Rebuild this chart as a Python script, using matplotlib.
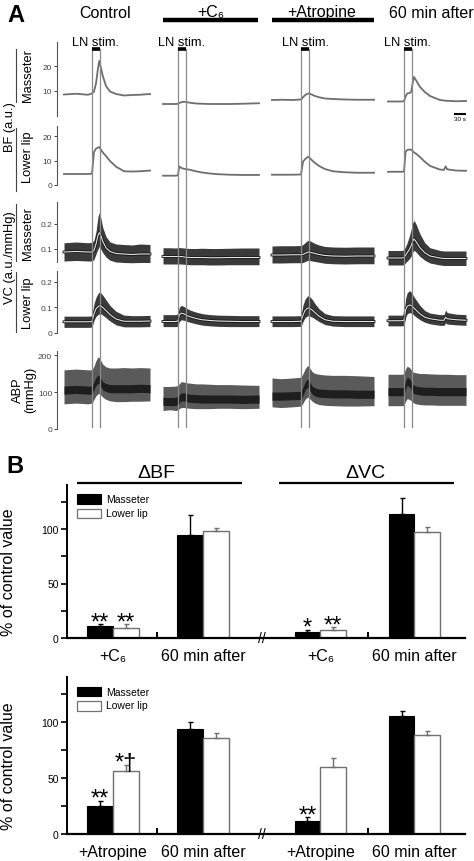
import matplotlib
matplotlib.use('Agg')
import matplotlib.pyplot as plt
from matplotlib.lines import Line2D
from matplotlib.patches import Rectangle

plt.rcParams['font.family'] = ['Liberation Sans', 'DejaVu Sans']
plt.rcParams['mathtext.default'] = 'regular'

# ---------------- panel A: traces (time in s relative to LN stim onset) ----------------
conditions = ['Control', '+C\u2086', '+Atropine', '60 min after']
stim_len = 20

t_ctrl = [-70, -40, -10, 0, 5, 10, 15, 18, 22, 27, 35, 45, 60, 80, 100, 120, 145]
bfm_ctrl = [8.6, 8.9, 8.5, 9.0, 9.8, 13.0, 19.0, 22.0, 19.5, 16.0, 12.0, 9.8, 8.8, 8.2, 8.4, 8.5, 8.8]
bfl_ctrl = [4.5, 4.5, 4.5, 4.6, 13.5, 14.8, 15.3, 15.5, 14.5, 13.3, 11.8, 9.8, 7.5, 5.6, 5.5, 5.6, 5.9]
vcm_ctrl = [0.088, 0.09, 0.088, 0.088, 0.095, 0.12, 0.155, 0.165, 0.155, 0.13, 0.105, 0.09, 0.082, 0.08, 0.078, 0.08, 0.08]
vcm_ctrl_hi = [0.125, 0.128, 0.125, 0.126, 0.135, 0.17, 0.23, 0.245, 0.225, 0.185, 0.15, 0.128, 0.12, 0.118, 0.116, 0.12, 0.118]
vcm_ctrl_lo = [0.052, 0.054, 0.052, 0.052, 0.058, 0.08, 0.1, 0.11, 0.1, 0.085, 0.068, 0.055, 0.048, 0.046, 0.045, 0.046, 0.046]
vcl_ctrl = [0.044, 0.044, 0.044, 0.045, 0.075, 0.095, 0.103, 0.107, 0.106, 0.1, 0.088, 0.072, 0.055, 0.046, 0.046, 0.046, 0.047]
vcl_ctrl_hi = [0.066, 0.066, 0.066, 0.067, 0.115, 0.14, 0.155, 0.16, 0.158, 0.148, 0.13, 0.108, 0.085, 0.07, 0.068, 0.068, 0.069]
vcl_ctrl_lo = [0.022, 0.022, 0.022, 0.023, 0.05, 0.065, 0.072, 0.075, 0.075, 0.07, 0.06, 0.047, 0.032, 0.024, 0.024, 0.024, 0.025]
abp_ctrl_lo = [68, 70, 68, 70, 80, 90, 95, 96, 92, 86, 80, 76, 74, 74, 75, 75, 76]
abp_ctrl_hi = [160, 162, 160, 160, 170, 185, 195, 193, 185, 175, 168, 165, 165, 166, 165, 166, 165]
abp_ctrl_mid = [108, 110, 108, 108, 120, 132, 138, 136, 128, 120, 115, 112, 112, 112, 112, 113, 112]

t_c6 = [-37.5, -20, -5, 0, 3, 8, 15, 20, 30, 45, 60, 80, 100, 130, 160, 202.5]
bfm_c6 = [4.8, 4.8, 4.8, 4.9, 5.2, 5.5, 5.7, 5.6, 5.3, 5.0, 4.9, 4.8, 4.8, 4.8, 4.9, 5.1]
bfl_c6 = [3.8, 3.8, 3.8, 4.0, 7.6, 7.0, 6.6, 6.5, 6.2, 5.6, 5.1, 4.7, 4.4, 4.2, 4.1, 4.1]
vcm_c6 = [0.07, 0.07, 0.07, 0.07, 0.07, 0.07, 0.068, 0.067, 0.066, 0.066, 0.066, 0.065, 0.065, 0.066, 0.066, 0.066]
vcm_c6_hi = [0.105, 0.105, 0.104, 0.105, 0.106, 0.105, 0.104, 0.103, 0.102, 0.102, 0.103, 0.102, 0.102, 0.103, 0.104, 0.104]
vcm_c6_lo = [0.04, 0.04, 0.04, 0.04, 0.04, 0.04, 0.039, 0.038, 0.037, 0.037, 0.037, 0.036, 0.036, 0.037, 0.037, 0.037]
vcl_c6 = [0.045, 0.045, 0.045, 0.048, 0.07, 0.078, 0.075, 0.07, 0.064, 0.057, 0.052, 0.049, 0.047, 0.046, 0.045, 0.045]
vcl_c6_hi = [0.072, 0.072, 0.072, 0.075, 0.1, 0.108, 0.104, 0.098, 0.09, 0.082, 0.076, 0.072, 0.07, 0.069, 0.068, 0.068]
vcl_c6_lo = [0.025, 0.025, 0.025, 0.027, 0.045, 0.052, 0.05, 0.047, 0.042, 0.036, 0.031, 0.028, 0.026, 0.025, 0.025, 0.025]
abp_c6_lo = [50, 52, 50, 52, 55, 58, 58, 57, 56, 55, 55, 55, 56, 56, 55, 56]
abp_c6_hi = [115, 115, 116, 118, 122, 128, 127, 125, 124, 122, 122, 121, 120, 120, 119, 118]
abp_c6_mid = [78, 77, 78, 80, 84, 90, 90, 88, 86, 85, 84, 84, 84, 84, 83, 84]

t_atr = [-72.5, -50, -20, 0, 5, 10, 15, 18, 22, 28, 35, 45, 60, 80, 110, 140, 182.5]
bfm_atr = [6.4, 6.5, 6.4, 6.6, 7.5, 8.3, 8.8, 9.0, 8.9, 8.5, 8.0, 7.5, 7.0, 6.8, 6.6, 6.5, 6.5]
bfl_atr = [4.2, 4.2, 4.2, 4.3, 9.5, 10.5, 11.2, 11.5, 11.0, 10.0, 9.0, 7.8, 6.5, 5.6, 5.2, 5.0, 5.0]
vcm_atr = [0.076, 0.076, 0.077, 0.077, 0.078, 0.082, 0.086, 0.088, 0.087, 0.085, 0.082, 0.078, 0.074, 0.072, 0.071, 0.072, 0.072]
vcm_atr_hi = [0.112, 0.113, 0.113, 0.114, 0.118, 0.125, 0.132, 0.135, 0.133, 0.128, 0.122, 0.116, 0.11, 0.108, 0.107, 0.108, 0.108]
vcm_atr_lo = [0.044, 0.044, 0.045, 0.045, 0.046, 0.05, 0.053, 0.055, 0.054, 0.052, 0.05, 0.047, 0.043, 0.041, 0.04, 0.041, 0.041]
vcl_atr = [0.045, 0.045, 0.045, 0.046, 0.07, 0.088, 0.096, 0.098, 0.096, 0.09, 0.08, 0.066, 0.052, 0.046, 0.045, 0.045, 0.045]
vcl_atr_hi = [0.067, 0.067, 0.067, 0.068, 0.11, 0.132, 0.143, 0.146, 0.142, 0.132, 0.115, 0.095, 0.076, 0.068, 0.067, 0.067, 0.067]
vcl_atr_lo = [0.025, 0.025, 0.025, 0.026, 0.045, 0.06, 0.066, 0.068, 0.066, 0.062, 0.055, 0.045, 0.033, 0.027, 0.025, 0.025, 0.025]
abp_atr_lo = [60, 58, 60, 62, 70, 80, 85, 86, 82, 75, 70, 66, 64, 63, 62, 62, 63]
abp_atr_hi = [138, 136, 138, 140, 150, 162, 170, 171, 165, 155, 150, 148, 146, 145, 145, 144, 142]
abp_atr_mid = [92, 92, 93, 94, 105, 118, 126, 126, 118, 108, 103, 100, 99, 98, 98, 97, 97]

t_60 = [-40, -20, -5, 0, 4, 8, 14, 18, 22, 25, 30, 40, 52, 65, 90, 100, 104, 108, 130, 155]
bfm_60 = [5.8, 5.8, 5.8, 6.0, 7.8, 9.0, 9.2, 9.6, 13.5, 15.6, 14.3, 11.6, 9.6, 8.0, 6.4, 6.2, 6.1, 6.1, 5.9, 6.0]
bfl_60 = [5.4, 5.4, 5.4, 5.5, 13.6, 14.3, 14.5, 14.4, 13.8, 13.3, 12.8, 11.4, 9.5, 7.8, 6.3, 6.2, 7.6, 6.4, 5.9, 5.8]
vcm_60 = [0.064, 0.064, 0.064, 0.066, 0.075, 0.085, 0.1, 0.115, 0.132, 0.14, 0.13, 0.105, 0.085, 0.072, 0.064, 0.062, 0.062, 0.062, 0.062, 0.062]
vcm_60_hi = [0.094, 0.094, 0.094, 0.097, 0.11, 0.125, 0.155, 0.18, 0.205, 0.215, 0.2, 0.16, 0.125, 0.105, 0.094, 0.092, 0.092, 0.092, 0.092, 0.092]
vcm_60_lo = [0.036, 0.036, 0.036, 0.038, 0.045, 0.052, 0.062, 0.072, 0.088, 0.095, 0.088, 0.07, 0.055, 0.044, 0.036, 0.034, 0.034, 0.034, 0.034, 0.034]
vcl_60 = [0.048, 0.048, 0.048, 0.05, 0.09, 0.105, 0.11, 0.108, 0.103, 0.098, 0.09, 0.075, 0.062, 0.056, 0.05, 0.05, 0.062, 0.056, 0.052, 0.05]
vcl_60_hi = [0.07, 0.07, 0.07, 0.072, 0.135, 0.158, 0.166, 0.16, 0.15, 0.142, 0.13, 0.108, 0.088, 0.078, 0.072, 0.072, 0.09, 0.08, 0.074, 0.072]
vcl_60_lo = [0.028, 0.028, 0.028, 0.03, 0.062, 0.075, 0.08, 0.078, 0.074, 0.07, 0.063, 0.052, 0.042, 0.036, 0.03, 0.03, 0.04, 0.035, 0.032, 0.03]
abp_60_lo = [63, 63, 63, 64, 75, 82, 80, 76, 72, 70, 68, 66, 65, 65, 64, 64, 64, 64, 64, 64]
abp_60_hi = [148, 148, 148, 150, 163, 170, 166, 160, 155, 153, 152, 150, 150, 149, 148, 148, 148, 148, 147, 147]
abp_60_mid = [104, 104, 104, 106, 122, 132, 128, 120, 113, 110, 108, 106, 105, 105, 104, 104, 104, 104, 104, 104]

# ---------------- panel B: bars (% of control) ----------------
groups_top = ['+C\u2086', '60 min after', '+C\u2086', '60 min after']
groups_bot = ['+Atropine', '60 min after', '+Atropine', '60 min after']
top_mass = [10.7, 94.8, 5.8, 113.8]
top_mass_err = [2.1, 18.0, 1.8, 14.5]
top_lip = [9.5, 98.0, 7.6, 97.2]
top_lip_err = [3.0, 2.5, 2.2, 4.3]
top_mass_sig = ['**', '', '*', '']
top_lip_sig = ['**', '', '**', '']
bot_mass = [25.3, 93.8, 11.3, 105.0]
bot_mass_err = [4.5, 6.5, 3.6, 5.0]
bot_lip = [56.5, 85.7, 59.5, 88.4]
bot_lip_err = [5.5, 4.5, 8.0, 4.0]
bot_mass_sig = ['**', '', '**', '']
bot_lip_sig = ['*\u2020', '', '', '']

W, H = 474, 862
fig = plt.figure(figsize=(W / 100, H / 100), dpi=100)


def box(x0, y0, x1, y1):
    return [x0 / W, 1 - y1 / H, (x1 - x0) / W, (y1 - y0) / H]


def ftext(x, y, s, **kw):
    fig.text(x / W, 1 - y / H, s, **kw)


def fline(x0, y0, x1, y1, **kw):
    fig.add_artist(Line2D([x0 / W, x1 / W], [1 - y0 / H, 1 - y1 / H], **kw))


# global time axis for panel A
xlim_a = (0, 1032.5)
onsets = [87.5, 302.5, 610, 867.5]
segments = [
    (t_ctrl, bfm_ctrl, bfl_ctrl, vcm_ctrl, vcm_ctrl_lo, vcm_ctrl_hi, vcl_ctrl, vcl_ctrl_lo, vcl_ctrl_hi,
     abp_ctrl_lo, abp_ctrl_hi, abp_ctrl_mid),
    (t_c6, bfm_c6, bfl_c6, vcm_c6, vcm_c6_lo, vcm_c6_hi, vcl_c6, vcl_c6_lo, vcl_c6_hi,
     abp_c6_lo, abp_c6_hi, abp_c6_mid),
    (t_atr, bfm_atr, bfl_atr, vcm_atr, vcm_atr_lo, vcm_atr_hi, vcl_atr, vcl_atr_lo, vcl_atr_hi,
     abp_atr_lo, abp_atr_hi, abp_atr_mid),
    (t_60, bfm_60, bfl_60, vcm_60, vcm_60_lo, vcm_60_hi, vcl_60, vcl_60_lo, vcl_60_hi,
     abp_60_lo, abp_60_hi, abp_60_mid),
]

# rows: (top px, bottom px, ylim, spine bounds, ticks, ticklabels)
rows = [
    (42, 117, (0, 30), (0, 29.6), [10, 20], ['10', '20']),
    (126, 186, (0, 24.5), (0, 24), [0, 10, 20], ['0', '10', '20']),
    (202.5, 275, (0, 0.29), (0.048, 0.288), [0.1, 0.2], ['0.1', '0.2']),
    (271.5, 334, (0, 0.245), (0, 0.243), [0, 0.1, 0.2], ['0', '0.1', '0.2']),
    (351.6, 430, (0, 212), (0, 210), [0, 100, 200], ['0', '100', '200']),
]
axes_a = []
for top, bot, yl, bnd, tk, tkl in rows:
    ax = fig.add_axes(box(57, top, 470, bot))
    ax.set_xlim(xlim_a)
    ax.set_ylim(yl)
    ax.patch.set_visible(False)
    for s in ['top', 'right', 'bottom']:
        ax.spines[s].set_visible(False)
    ax.spines['left'].set_bounds(*bnd)
    ax.spines['left'].set_color('#555555')
    ax.spines['left'].set_linewidth(0.8)
    ax.set_xticks([])
    ax.set_yticks(tk)
    ax.set_yticklabels(tkl)
    ax.tick_params(axis='y', length=2.5, width=0.7, pad=1, labelsize=6, colors='#444444')
    axes_a.append(ax)

trace_col = '#6e6e6e'
for on, seg in zip(onsets, segments):
    t, bfm, bfl, vcm, vcm_lo, vcm_hi, vcl, vcl_lo, vcl_hi, ab_lo, ab_hi, ab_mid = seg
    x = [on + v for v in t]
    axes_a[0].plot(x, bfm, color=trace_col, lw=1.3)
    axes_a[1].plot(x, bfl, color=trace_col, lw=1.3)
    for ax, m, lo, hi in [(axes_a[2], vcm, vcm_lo, vcm_hi), (axes_a[3], vcl, vcl_lo, vcl_hi)]:
        ax.fill_between(x, lo, hi, color='#3a3a3a', lw=0)
        ax.plot(x, m, color='#111111', lw=2.0)
        ax.plot(x, m, color='#e8e8e8', lw=0.8)
    axes_a[4].fill_between(x, ab_lo, ab_hi, color='#5a5a5a', lw=0)
    axes_a[4].fill_between(x, [v - 14 for v in ab_mid], [v + 8 for v in ab_mid], color='#1e1e1e', lw=0)

# overlay for stimulus markers, scale bar
ov = fig.add_axes(box(57, 0, 470, H))
ov.set_xlim(xlim_a)
ov.set_ylim(H, 0)
ov.axis('off')
for on in onsets:
    for xs in (on, on + stim_len):
        ov.plot([xs, xs], [50, 428], color='#8a8a8a', lw=0.9)
    ov.plot([on, on + stim_len], [49.5, 49.5], color='black', lw=2.6, solid_capstyle='butt')
    ov.text(on + stim_len / 2, 43, 'LN stim.', ha='center', va='center', fontsize=9.3)
ov.plot([992.5, 1022.5], [114.5, 114.5], color='black', lw=1.5, solid_capstyle='butt')
ov.text(1007.5, 117, '30 s', ha='center', va='top', fontsize=4.5)

# column titles
for xc, name in zip([105, 211, 322, 431], conditions):
    ftext(xc, 13, name, ha='center', va='center', fontsize=11.5)
fline(163, 21, 258, 21, color='black', lw=3.2, solid_capstyle='butt')
fline(272, 21, 374, 21, color='black', lw=3.2, solid_capstyle='butt')

ftext(16, 16, 'A', ha='center', va='center', fontsize=17, fontweight='bold')

# row labels
ftext(28, 75, 'Masseter', ha='center', va='center', rotation=90, fontsize=9.3)
ftext(28, 157, 'Lower lip', ha='center', va='center', rotation=90, fontsize=9.3)
ftext(10, 127, 'BF (a.u.)', ha='center', va='center', rotation=90, fontsize=9.3)
ftext(28, 233, 'Masseter', ha='center', va='center', rotation=90, fontsize=9.3)
ftext(28, 303, 'Lower lip', ha='center', va='center', rotation=90, fontsize=9.3)
ftext(10, 258, 'VC (a.u./mmHg)', ha='center', va='center', rotation=90, fontsize=9.3)
ftext(24, 390, 'ABP\n(mmHg)', ha='center', va='center', rotation=90, fontsize=9.3, linespacing=1.0)
for y0, y1 in [(50, 103), (129, 192), (205, 262), (273, 333)]:
    fline(16, y0, 16, y1, color='#444444', lw=0.8)

# ---------------- panel B ----------------
ftext(15, 467, 'B', ha='center', va='center', fontsize=17, fontweight='bold')
ftext(156, 474, '\u0394BF', ha='center', va='center', fontsize=14)
ftext(365, 474, '\u0394VC', ha='center', va='center', fontsize=14)
fline(77, 484, 242, 484, color='black', lw=1.6, solid_capstyle='butt')
fline(279, 484, 454, 484, color='black', lw=1.6, solid_capstyle='butt')

centers = [1.79, 5.29, 9.86, 13.52]
bw = 1.0
lip_col = '#707070'


def bar_panel(rect, labels, mass, mass_err, lip, lip_err, mass_sig, lip_sig, leg_y):
    ax = fig.add_axes(rect)
    xm = [c - bw / 2 for c in centers]
    xl = [c + bw / 2 for c in centers]
    ax.bar(xm, mass, width=bw, color='black', edgecolor='black', lw=0.8, zorder=2)
    ax.bar(xl, lip, width=bw, color='white', edgecolor=lip_col, lw=1.0, zorder=2)
    ax.errorbar(xm, mass, yerr=[[0] * len(mass), mass_err], fmt='none', ecolor='black',
                elinewidth=1.0, capsize=1.8, capthick=1.0, zorder=3)
    ax.errorbar(xl, lip, yerr=[[0] * len(lip), lip_err], fmt='none', ecolor=lip_col,
                elinewidth=1.0, capsize=1.8, capthick=1.0, zorder=3)
    for xs, v, e, s in list(zip(xm, mass, mass_err, mass_sig)) + list(zip(xl, lip, lip_err, lip_sig)):
        if s:
            ax.annotate(s, (xs, v + e), xytext=(0, -3), textcoords='offset points',
                        ha='center', va='baseline', fontsize=17)
    ax.set_xlim(0, 15.49)
    ax.set_ylim(0, 140)
    for s in ['top', 'right']:
        ax.spines[s].set_visible(False)
    ax.spines['left'].set_linewidth(1.4)
    ax.spines['bottom'].set_linewidth(1.6)
    ax.set_yticks([0, 50, 100])
    ax.set_yticks([25, 75, 125], minor=True)
    ax.tick_params(axis='y', which='major', length=4, width=1.2, labelsize=7.5, pad=2)
    ax.tick_params(axis='y', which='minor', length=4, width=1.2)
    ax.set_xticks(centers)
    ax.set_xticklabels(labels)
    ax.set_xticks([3.5, 11.71], minor=True)
    ax.tick_params(axis='x', which='major', length=0, labelsize=11.5, pad=7)
    ax.tick_params(axis='x', which='minor', direction='in', length=4, width=1.4)
    ax.text(7.59, 0, '//', ha='center', va='center', fontsize=10, clip_on=False, zorder=4)
    ax.set_ylabel('% of control value', fontsize=11.5)
    ax.yaxis.set_label_coords(-0.128, 0.44)
    # legend
    fig.add_artist(Rectangle((77 / W, 1 - (leg_y + 9.5) / H), 24 / W, 9.5 / H,
                             facecolor='black', edgecolor='black', lw=0.8))
    fig.add_artist(Rectangle((77 / W, 1 - (leg_y + 24) / H), 24 / W, 9.5 / H,
                             facecolor='white', edgecolor=lip_col, lw=0.9))
    ftext(106, leg_y + 5, 'Masseter', ha='left', va='center', fontsize=7.5)
    ftext(106, leg_y + 19, 'Lower lip', ha='left', va='center', fontsize=7.5)
    return ax


bar_panel(box(67, 486.4, 465, 639), groups_top, top_mass, top_mass_err, top_lip, top_lip_err,
          top_mass_sig, top_lip_sig, 495)
bar_panel(box(67, 678.2, 465, 835), groups_bot, bot_mass, bot_mass_err, bot_lip, bot_lip_err,
          bot_mass_sig, bot_lip_sig, 687.5)

fig.savefig('out.png', dpi=100)
